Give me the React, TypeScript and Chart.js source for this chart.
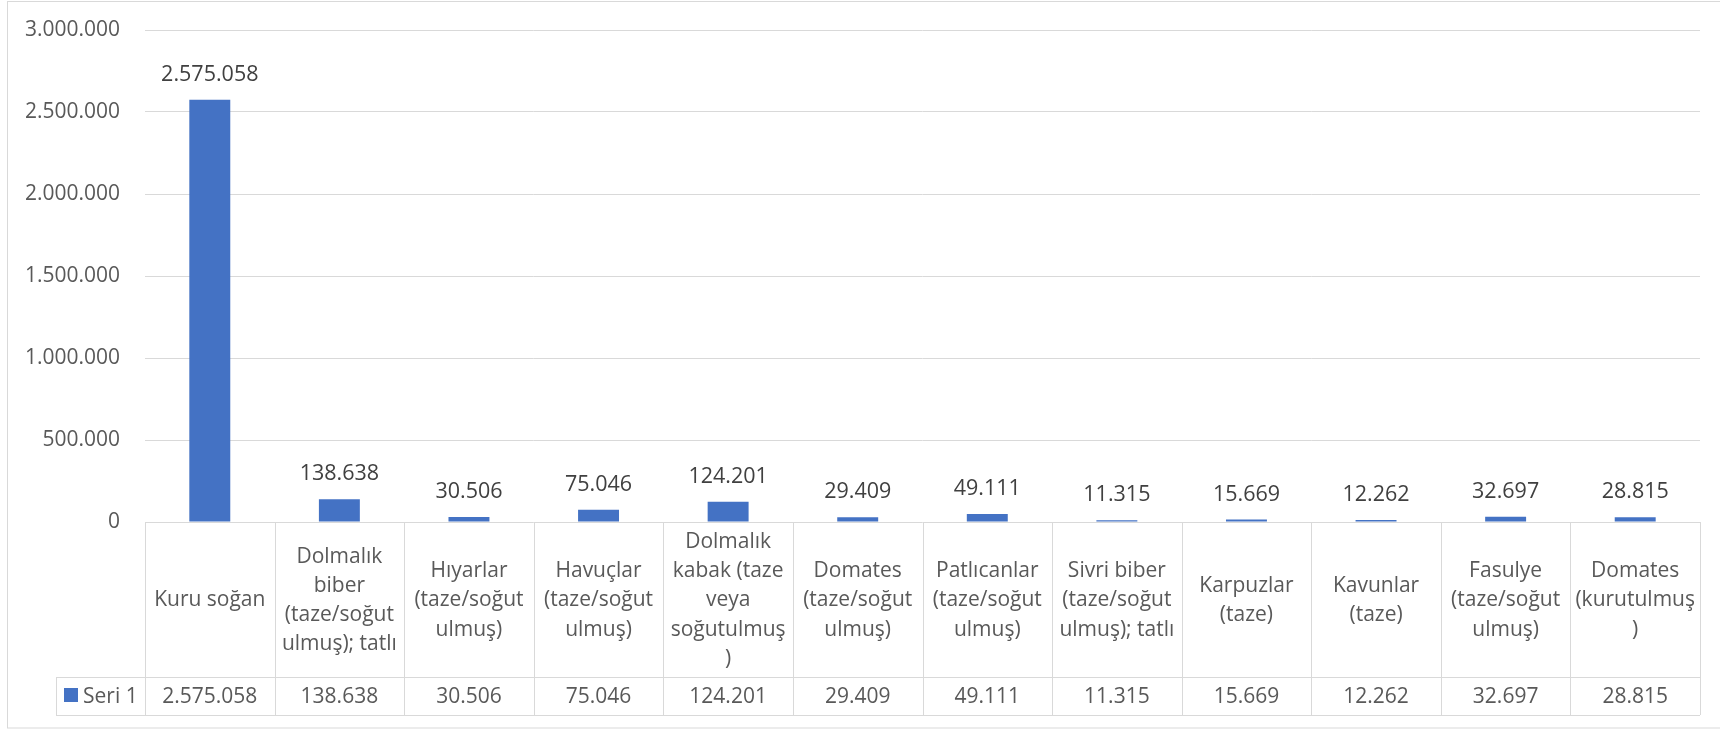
import React, { useEffect, useRef } from "react";
import { Chart, registerables } from "chart.js";

Chart.register(...registerables);

const categories: string[][] = [
  ["Kuru soğan"],
  ["Dolmalık", "biber", "(taze/soğut", "ulmuş); tatlı"],
  ["Hıyarlar", "(taze/soğut", "ulmuş)"],
  ["Havuçlar", "(taze/soğut", "ulmuş)"],
  ["Dolmalık", "kabak (taze", "veya", "soğutulmuş", ")"],
  ["Domates", "(taze/soğut", "ulmuş)"],
  ["Patlıcanlar", "(taze/soğut", "ulmuş)"],
  ["Sivri biber", "(taze/soğut", "ulmuş); tatlı"],
  ["Karpuzlar", "(taze)"],
  ["Kavunlar", "(taze)"],
  ["Fasulye", "(taze/soğut", "ulmuş)"],
  ["Domates", "(kurutulmuş", ")"],
];

const seriesName = "Seri 1";
const seriesValues: number[] = [
  2575058, 138638, 30506, 75046, 124201, 29409, 49111, 11315, 15669, 12262, 32697, 28815,
];

const yMax = 3000000;
const yStep = 500000;

const FONT = "'Open Sans', 'Noto Sans', sans-serif";
const BAR = "#4472C4";
const LINE = "#d9d9d9";

const fmt = (v: number) =>
  Math.round(v)
    .toString()
    .replace(/\B(?=(\d{3})+(?!\d))/g, ".");

const tablePlugin = {
  id: "dataTable",
  afterDraw(chart: any) {
    const ctx = chart.ctx as CanvasRenderingContext2D;
    const x = chart.scales.x;
    const area = chart.chartArea;
    const n = categories.length;
    const colW = (area.right - area.left) / n;
    const top = area.bottom;
    const mid = 677;
    const bot = 715;
    const legendLeft = 56;
    ctx.save();
    // outer border
    ctx.strokeStyle = LINE;
    ctx.lineWidth = 1;
    ctx.strokeRect(7.5, 1.5, 1730, 726.5);

    // table lines
    ctx.beginPath();
    for (let i = 0; i <= n; i++) {
      const xx = Math.round(area.left + i * colW) + 0.5;
      ctx.moveTo(xx, top);
      ctx.lineTo(xx, bot);
    }
    ctx.moveTo(legendLeft + 0.5, mid);
    ctx.lineTo(legendLeft + 0.5, bot);
    ctx.moveTo(legendLeft, mid + 0.5);
    ctx.lineTo(area.right, mid + 0.5);
    ctx.moveTo(legendLeft, bot + 0.5);
    ctx.lineTo(area.right, bot + 0.5);
    ctx.stroke();

    // category text
    ctx.fillStyle = "#595959";
    ctx.font = `21px ${FONT}`;
    ctx.textAlign = "center";
    ctx.textBaseline = "middle";
    const lh = 29.3;
    const rowMid = (top + mid) / 2 + 1;
    categories.forEach((lines, i) => {
      const cx = x.getPixelForValue(i);
      const start = rowMid - ((lines.length - 1) * lh) / 2;
      lines.forEach((l, j) => ctx.fillText(l, cx, start + j * lh));
    });

    // values row
    const dataMid = (mid + bot) / 2 + 1;
    seriesValues.forEach((v, i) => {
      ctx.fillText(fmt(v), x.getPixelForValue(i), dataMid);
    });

    // legend
    ctx.fillStyle = BAR;
    ctx.fillRect(64, 688, 14, 14);
    ctx.fillStyle = "#595959";
    ctx.textAlign = "left";
    ctx.fillText(seriesName, 83, dataMid);

    // data labels above bars
    const meta = chart.getDatasetMeta(0);
    ctx.fillStyle = "#404040";
    ctx.textAlign = "center";
    ctx.font = `21.5px ${FONT}`;
    meta.data.forEach((bar: any, i: number) => {
      ctx.fillText(fmt(seriesValues[i]), bar.x, bar.y - 25);
    });
    ctx.restore();
  },
};

export default function App() {
  const ref = useRef<HTMLCanvasElement>(null);
  useEffect(() => {
    if (!ref.current) return;
    const chart = new Chart(ref.current, {
      type: "bar",
      data: {
        labels: categories.map((c) => c.join(" ")),
        datasets: [
          {
            label: seriesName,
            data: seriesValues,
            backgroundColor: BAR,
            categoryPercentage: 1,
            barPercentage: 0.316,
          },
        ],
      },
      options: {
        animation: false,
        responsive: false,
        layout: { padding: { left: 0, right: 20, top: 30, bottom: 207 } },
        plugins: { legend: { display: false }, tooltip: { enabled: false } },
        scales: {
          x: {
            ticks: { display: false },
            grid: { display: false },
            border: { display: false },
            afterFit: (s: any) => {
              s.height = 0;
            },
          },
          y: {
            min: 0,
            max: yMax,
            ticks: {
              stepSize: yStep,
              padding: 25,
              color: "#595959",
              font: { family: FONT, size: 21 },
              callback: (v: any) => fmt(Number(v)),
            },
            grid: { color: LINE, drawTicks: false, lineWidth: 1 },
            border: { display: false },
            afterFit: (s: any) => {
              s.width = 145;
              s.paddingTop = 0;
              s.paddingBottom = 0;
            },
          },
        },
      },
      plugins: [tablePlugin],
    });
    return () => chart.destroy();
  }, []);
  return (
    <div style={{ position: "fixed", left: 0, top: 0, width: 1720, height: 729, background: "#fff" }}>
      <canvas ref={ref} width={1720} height={729} style={{ width: 1720, height: 729 }} />
    </div>
  );
}
